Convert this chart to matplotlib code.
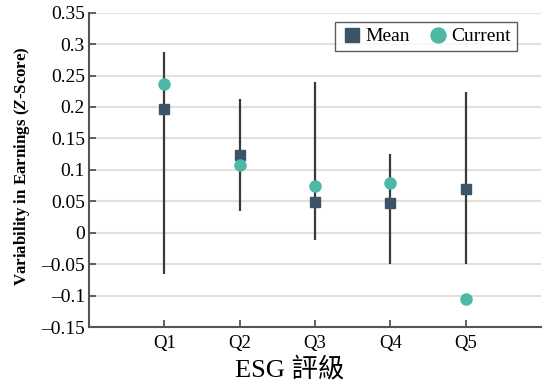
import matplotlib
matplotlib.use("Agg")
import matplotlib.pyplot as plt
import numpy as np

categories = ["Q1", "Q2", "Q3", "Q4", "Q5"]
mean_vals = [0.197, 0.123, 0.049, 0.048, 0.070]
current_vals = [0.237, 0.108, 0.074, 0.079, -0.105]
range_high = [0.287, 0.213, 0.239, 0.125, 0.224]
range_low = [-0.065, 0.034, -0.012, -0.050, -0.050]
y_ticks = [-0.15, -0.1, -0.05, 0, 0.05, 0.1, 0.15, 0.2, 0.25, 0.3, 0.35]
y_tick_labels = ["\u20130.15", "\u20130.1", "\u20130.05", "0", "0.05", "0.1",
                 "0.15", "0.2", "0.25", "0.3", "0.35"]

plt.rcParams['font.family'] = ['Liberation Serif', 'Noto Sans CJK TC']
plt.rcParams['mathtext.fontset'] = 'custom'
plt.rcParams['mathtext.rm'] = 'Liberation Serif'
plt.rcParams['mathtext.bf'] = 'Liberation Serif:bold'
plt.rcParams['mathtext.it'] = 'Liberation Serif:italic'
plt.rcParams['mathtext.bfit'] = 'Liberation Serif:bold:italic'

W, H = 543, 382
fig = plt.figure(figsize=(W / 100, H / 100), dpi=100)
ax = fig.add_axes([89 / W, 1 - 327 / H, (541 - 89) / W, (327 - 12.7) / H])

x = np.arange(1, len(categories) + 1)
ax.vlines(x, range_low, range_high, color="#3a3a3a", linewidth=1.6, zorder=2)
ax.plot(x, mean_vals, linestyle="none", marker="s", markersize=7.5,
        color="#3d5366", label="Mean", zorder=3)
ax.plot(x, current_vals, linestyle="none", marker="o", markersize=8,
        color="#4cb8a5", label="Current", zorder=3)

ax.set_xlim(0, 6)
ax.set_ylim(-0.15, 0.35)
ax.set_xticks(x)
ax.set_xticklabels(categories, fontsize=13.5)
ax.set_yticks(y_ticks)
ax.set_yticklabels(y_tick_labels, fontsize=14)
ax.tick_params(direction="in", length=5, width=1.3, color="#555555")
ax.tick_params(axis="y", pad=3)
ax.tick_params(axis="x", pad=6)

ax.yaxis.grid(True, color="#e4e0dc", linewidth=1.5)
ax.set_axisbelow(True)
for s in ["top", "right"]:
    ax.spines[s].set_visible(False)
for s in ["left", "bottom"]:
    ax.spines[s].set_color("#555555")
    ax.spines[s].set_linewidth(1.5)

fig.text(290 / W, 1 - 369 / H, "ESG 評級", fontsize=19, ha="center", va="center")
fig.text(22 / W, 1 - 166 / H, r"Variability in Earnings ($\mathbfit{Z}$-Score)",
         fontsize=12.2, fontweight="bold", rotation=90, ha="center", va="center")

leg = ax.legend(loc="upper right", bbox_to_anchor=((517 - 89) / 452, (327 - 22) / 314.3),
                ncol=2, fontsize=14, frameon=True, fancybox=False, handletextpad=0.15,
                columnspacing=0.9, handlelength=1.1, borderpad=0.3, borderaxespad=0,
                markerscale=1.35)
leg.get_frame().set_edgecolor("#333333")
leg.get_frame().set_linewidth(1.0)

fig.savefig("out.png", dpi=100)
